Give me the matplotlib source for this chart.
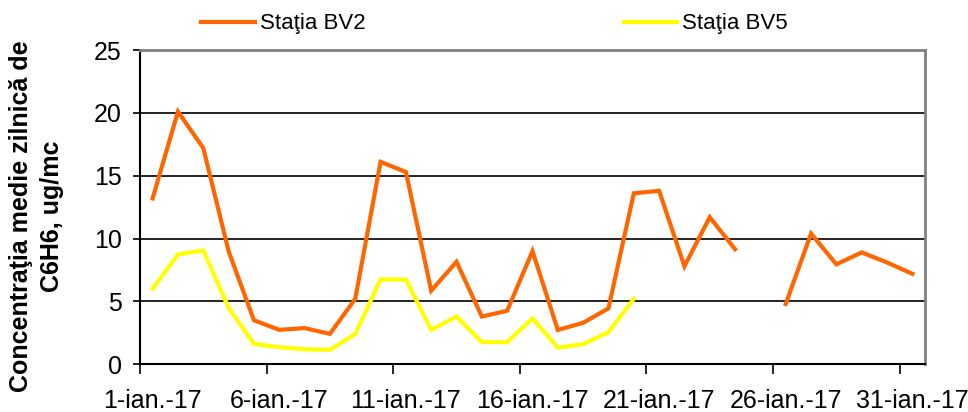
import numpy as np
import matplotlib
matplotlib.use("Agg")
import matplotlib.pyplot as plt
from matplotlib.lines import Line2D

plt.rcParams['font.family'] = ['Liberation Sans', 'DejaVu Sans']

zile = np.arange(1, 32)
bv2 = [13.2, 20.1, 17.2, 9.0, 3.5, 2.74, 2.88, 2.42, 5.2, 16.1,
       15.3, 5.86, 8.15, 3.8, 4.26, 9.0, 2.73, 3.3, 4.45, 13.6,
       13.8, 7.8, 11.7, 9.15, np.nan, 4.8, 10.4, 7.95, 8.9, 8.1, 7.2]
bv5 = [6.0, 8.75, 9.05, 4.5, 1.62, 1.36, 1.2, 1.15, 2.4, 6.75,
       6.75, 2.74, 3.8, 1.76, 1.76, 3.65, 1.32, 1.6, 2.55, 5.2,
       np.nan, np.nan, np.nan, np.nan, np.nan, np.nan, np.nan, np.nan, np.nan, np.nan, np.nan]
etichete_x = ['1-ian.-17', '6-ian.-17', '11-ian.-17', '16-ian.-17',
              '21-ian.-17', '26-ian.-17', '31-ian.-17']
y_ticks = [0, 5, 10, 15, 20, 25]

fig = plt.figure(figsize=(9.68, 4.12), dpi=100)
ax = fig.add_axes([0.1446, 0.1158, 0.811, 0.7628])

ax.plot(zile, bv2, color='#FF6600', linewidth=3, solid_joinstyle='miter')
ax.plot(zile, bv5, color='#FFFF00', linewidth=3, solid_joinstyle='miter')

ax.set_xlim(0.5, 31.5)
ax.set_ylim(0, 25)

# gridlines
for v in y_ticks[1:-1]:
    ax.axhline(v, color='black', linewidth=1.2, zorder=0)

ax.set_yticks(y_ticks)
ax.tick_params(axis='y', length=5, width=1.2, pad=8, labelsize=18, direction='out')

# etichete la mijlocul zilei, liniute la margini
ax.set_xticks(zile[::5])
ax.set_xticklabels(etichete_x)
ax.tick_params(axis='x', which='major', length=0, pad=18, labelsize=18)
ax.set_xticks(np.arange(0.5, 31, 5), minor=True)
ax.tick_params(axis='x', which='minor', length=7, width=1.2, direction='out')

for s in ['left', 'bottom']:
    ax.spines[s].set_color('black')
    ax.spines[s].set_linewidth(1.5)
for s in ['top', 'right']:
    ax.spines[s].set_color('#808080')
    ax.spines[s].set_linewidth(2)

fig.text(0.038, 0.475, 'Concentraţia medie zilnică de\nC6H6, ug/mc', rotation=90,
         ha='center', va='center', fontsize=18, fontweight='bold', linespacing=1.35)

handles = [Line2D([], [], color='#FF6600', linewidth=3),
           Line2D([], [], color='#FFFF00', linewidth=3)]
fig.legend(handles, ['Staţia BV2', 'Staţia BV5'], loc='center',
           bbox_to_anchor=(0.511, 0.942), ncol=2, frameon=False, fontsize=16,
           handlelength=2.4, handletextpad=0.25, columnspacing=11.6, borderpad=0)

fig.savefig('out.png', dpi=100)
